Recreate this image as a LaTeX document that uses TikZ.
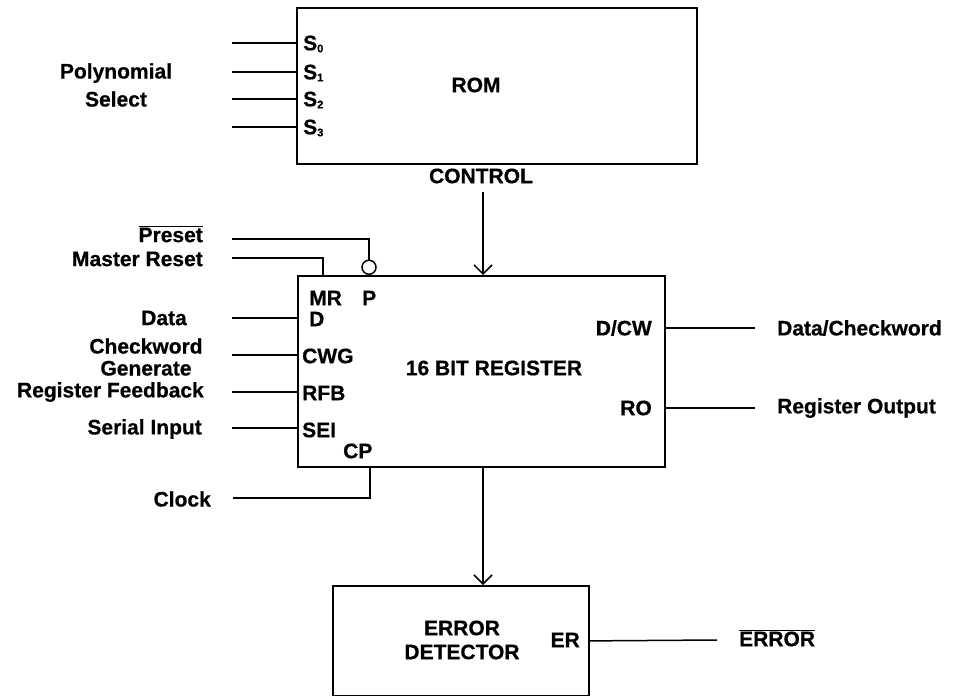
\documentclass[tikz,border=0pt]{standalone}
\usepackage{fontspec}
\setmainfont{Liberation Sans}[BoldFeatures={FakeBold=0.6}]
\usetikzlibrary{arrows.meta}
\newcommand{\subd}[1]{\lower2pt\hbox{\fontsize{11}{11}\selectfont #1}}
\newcommand{\ovl}[1]{$\overline{\hbox{#1}}$}
\tikzset{
  x=1pt, y=-1pt,
  every node/.style={font=\fontsize{21}{24}\selectfont\bfseries, inner sep=0pt},
  box/.style={draw, line width=1.8pt, inner sep=0pt},
  wire/.style={line width=1.5pt},
  arr/.style={wire, -{Straight Barb[length=9pt,width=18pt,line width=1.5pt]}},
  bubble/.style={draw, circle, line width=1.5pt, minimum size=14pt, inner sep=0pt},
  twoline/.style={align=center, font=\fontsize{21}{#1}\selectfont\bfseries}
}
\begin{document}
\begin{tikzpicture}
\useasboundingbox (0,0) rectangle (964,696);
% boxes
\node[box, anchor=north west, minimum width=400pt, minimum height=156pt] (rom) at (296,7) {};
\node[box, anchor=north west, minimum width=367pt, minimum height=191pt] (reg) at (297,275) {};
\node[box, anchor=north west, minimum width=256pt, minimum height=110pt] (ed) at (332,585) {};
% box texts
\node (romt) at (476,85) {ROM};
\node (ctl) at (481,176) {CONTROL};
\node (regt) at (494,368) {16 BIT REGISTER};
\node[twoline=24pt] (edt) at (462,640) {ERROR\\DETECTOR};
% ROM pins
\node[anchor=west] (ps0) at (303,44) {S\subd{0}};
\node[anchor=west] (ps1) at (303,73) {S\subd{1}};
\node[anchor=west] (ps2) at (303,100) {S\subd{2}};
\node[anchor=west] (ps3) at (303,128) {S\subd{3}};
\node[twoline=28pt] (poly) at (116,85) {Polynomial\\Select};
\coordinate (a0) at (232,43);
\coordinate (a1) at (232,72);
\coordinate (a2) at (232,99);
\coordinate (a3) at (232,127);
\foreach \i in {0,1,2,3} \draw[wire] (a\i) -- (a\i -| rom.west);
% control arrow
\coordinate (c1) at (483,192);
\draw[arr] (c1) -- (c1 |- reg.north);
% register pins
\node[anchor=west] (pmr) at (309,298) {MR};
\node[anchor=west] (pp) at (362,298) {P};
\node[anchor=west] (pd) at (309,319) {D};
\node[anchor=west] (pcwg) at (302,356) {CWG};
\node[anchor=west] (prfb) at (302,393) {RFB};
\node[anchor=west] (psei) at (302,430) {SEI};
\node[anchor=west] (pcp) at (343,451) {CP};
\node[anchor=east] (pdcw) at (652,328) {D/CW};
\node[anchor=east] (pro) at (652,408) {RO};
% external labels
\node[anchor=east] (lpre) at (203,234) {\ovl{Preset}};
\node[anchor=east] (lmr) at (203,259) {Master Reset};
\node[anchor=east] (ldata) at (187,318) {Data};
\node[twoline=22pt] (lcwg) at (146,357) {Checkword\\Generate};
\node[anchor=east] (lrfb) at (204,392) {Register Feedback};
\node[anchor=east] (lsei) at (202,429) {Serial Input};
\node[anchor=east] (lclk) at (211,499) {Clock};
\node[anchor=west] (ldcw) at (777,328) {Data/Checkword};
\node[anchor=west] (lro) at (777,408) {Register Output};
% bubble
\path (reg.north west) ++(72,0) node[bubble, anchor=south] (bub) {};
% wires to register
\coordinate (wpre) at (232,239);
\coordinate (wmr) at (232,258);
\coordinate (wd) at (232,318);
\coordinate (wcwg) at (232,355);
\coordinate (wrfb) at (232,392);
\coordinate (wsei) at (232,428);
\coordinate (wclk) at (233,498);
\draw[wire] (wpre) -| (bub.north);
\draw[wire] (wmr) -| ([xshift=26pt]reg.north west);
\draw[wire] (wd) -- (wd -| reg.west);
\draw[wire] (wcwg) -- (wcwg -| reg.west);
\draw[wire] (wrfb) -- (wrfb -| reg.west);
\draw[wire] (wsei) -- (wsei -| reg.west);
\draw[wire] (wclk) -| ([xshift=73pt]reg.south west);
\coordinate (odcw) at (755,328);
\coordinate (oro) at (755,408);
\draw[wire] (odcw -| reg.east) -- (odcw);
\draw[wire] (oro -| reg.east) -- (oro);
% register to error detector
\coordinate (c2) at (483,466);
\draw[arr] (c2) -- (c2 |- ed.north);
% error detector output
\node[anchor=east] (per) at (580,640) {ER};
\node[anchor=west] (lerr) at (739,638) {\ovl{ERROR}};
\coordinate (oer) at (717,640);
\draw[wire] (ed.east) -- (oer);
\end{tikzpicture}
\end{document}
